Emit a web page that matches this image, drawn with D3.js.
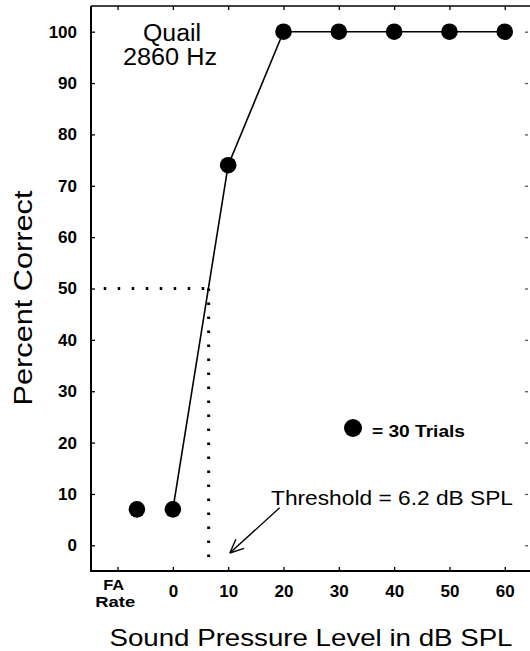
<!DOCTYPE html>
<html>
<head>
<meta charset="utf-8">
<script src="https://cdn.jsdelivr.net/npm/d3@7"></script>
<style>
  html, body { margin: 0; padding: 0; background: #fff; }
  svg { display: block; }
  text { font-family: "Liberation Sans", Arial, Helvetica, sans-serif; fill: #000; }
</style>
</head>
<body>
<svg id="chart" width="530" height="651"></svg>
<script>
// ---- data ----
const levels = [0, 10, 20, 30, 40, 50, 60];           // dB SPL
const percentCorrect = [7, 74, 100, 100, 100, 100, 100];
const faRateX = -6.5;                                  // position of FA-rate point
const faRateValue = 7;
const xTickValues = [0, 10, 20, 30, 40, 50, 60];
const xMinorTicks = [-10, 0, 10, 20, 30, 40, 50, 60];
const yTickValues = [0, 10, 20, 30, 40, 50, 60, 70, 80, 90, 100];
const threshold = 6.2;
const thresholdPercent = 50;
const faLabelLines = ["FA", "Rate"];
const faLabelX = -10.7;

// ---- scales ----
const svg = d3.select("#chart");
const x = d3.scaleLinear().domain([-14.8, 64.2]).range([91, 528]);
const y = d3.scaleLinear().domain([-5, 105]).range([571, 6]);

// ---- frame ----
svg.append("line").attr("x1", x(-14.8)).attr("x2", 530).attr("y1", y(105)).attr("y2", y(105))
  .attr("stroke", "#000").attr("stroke-width", 1.6);
svg.append("line").attr("x1", x(-14.8)).attr("x2", x(-14.8)).attr("y1", y(105)).attr("y2", y(-5))
  .attr("stroke", "#000").attr("stroke-width", 2);
svg.append("line").attr("x1", x(-14.8) - 1).attr("x2", 530).attr("y1", y(-5)).attr("y2", y(-5))
  .attr("stroke", "#000").attr("stroke-width", 2.2);

// left axis ticks + labels
const yAxis = d3.axisLeft(y).tickValues(yTickValues).tickSize(-4).tickPadding(14)
  .tickFormat(d3.format("d"));
const gy = svg.append("g").attr("transform", `translate(${x(-14.8)},0)`).call(yAxis);
gy.select(".domain").remove();
gy.selectAll(".tick line").attr("stroke", "#000").attr("stroke-width", 1.3);
gy.selectAll(".tick text").attr("font-size", 17).attr("font-weight", "bold")
  .style("font-family", '"Liberation Sans", Arial, sans-serif').attr("fill", "#000");

// right side ticks (no line)
const yAxisR = d3.axisRight(y).tickValues(yTickValues).tickSize(-3).tickFormat("");
const gyr = svg.append("g").attr("transform", `translate(${x(64.2)},0)`).call(yAxisR);
gyr.select(".domain").remove();
gyr.selectAll(".tick line").attr("stroke", "#555").attr("stroke-width", 1.3);

// bottom ticks + labels
const xAxis = d3.axisBottom(x).tickValues(xTickValues).tickSize(0).tickPadding(14)
  .tickFormat(d3.format("d"));
const gx = svg.append("g").attr("transform", `translate(0,${y(-5)})`).call(xAxis);
gx.select(".domain").remove();
gx.selectAll(".tick text").attr("font-size", 17).attr("font-weight", "bold")
  .style("font-family", '"Liberation Sans", Arial, sans-serif').attr("fill", "#000");

const xTickMarks = d3.axisBottom(x).tickValues(xMinorTicks).tickSize(-4).tickFormat("");
const gxt = svg.append("g").attr("transform", `translate(0,${y(-5)})`).call(xTickMarks);
gxt.select(".domain").remove();
gxt.selectAll(".tick line").attr("stroke", "#000").attr("stroke-width", 1.3);

const xTickTop = d3.axisTop(x).tickValues(xMinorTicks).tickSize(-4).tickFormat("");
const gxtop = svg.append("g").attr("transform", `translate(0,${y(105)})`).call(xTickTop);
gxtop.select(".domain").remove();
gxtop.selectAll(".tick line").attr("stroke", "#000").attr("stroke-width", 1.3);

// FA Rate label (two lines)
svg.append("text").attr("x", x(faLabelX)).attr("y", 590).attr("text-anchor", "middle")
  .attr("font-size", 14).attr("font-weight", "bold")
  .attr("textLength", 21).attr("lengthAdjust", "spacingAndGlyphs").text(faLabelLines[0]);
svg.append("text").attr("x", x(faLabelX) + 1.5).attr("y", 607).attr("text-anchor", "middle")
  .attr("font-size", 14).attr("font-weight", "bold")
  .attr("textLength", 40).attr("lengthAdjust", "spacingAndGlyphs").text(faLabelLines[1]);

// ---- threshold dotted lines ----
svg.append("line").attr("x1", x(-12.5)).attr("x2", x(threshold)).attr("y1", y(thresholdPercent)).attr("y2", y(thresholdPercent))
  .attr("stroke", "#000").attr("stroke-width", 3).attr("stroke-dasharray", "2.5,11.5");
svg.append("line").attr("x1", x(threshold) + 1.5).attr("x2", x(threshold) + 1.5).attr("y1", y(thresholdPercent)).attr("y2", y(-2.3))
  .attr("stroke", "#000").attr("stroke-width", 3).attr("stroke-dasharray", "2.5,11.5");

// ---- data line & markers ----
const pts = levels.map((l, i) => [l, percentCorrect[i]]);
svg.append("path").datum(pts)
  .attr("d", d3.line().x(d => x(d[0])).y(d => y(d[1])))
  .attr("fill", "none").attr("stroke", "#000").attr("stroke-width", 1.6);
svg.selectAll("circle.pt").data(pts).enter().append("circle").attr("class", "pt")
  .attr("cx", d => x(d[0])).attr("cy", d => y(d[1])).attr("r", 8.3).attr("fill", "#000");
svg.append("circle").attr("cx", x(faRateX)).attr("cy", y(faRateValue)).attr("r", 8.3).attr("fill", "#000");

// ---- annotations ----
svg.append("text").attr("x", 172).attr("y", 41).attr("text-anchor", "middle").attr("font-size", 23)
  .attr("textLength", 58).attr("lengthAdjust", "spacingAndGlyphs").text("Quail");
svg.append("text").attr("x", 170).attr("y", 65).attr("text-anchor", "middle").attr("font-size", 23)
  .attr("textLength", 94).attr("lengthAdjust", "spacingAndGlyphs").text("2860 Hz");

// legend
svg.append("circle").attr("cx", 353).attr("cy", 428).attr("r", 9).attr("fill", "#000");
svg.append("text").attr("x", 372).attr("y", 437).attr("font-size", 16).attr("font-weight", "bold")
  .attr("textLength", 93).attr("lengthAdjust", "spacingAndGlyphs").text("= 30 Trials");

// threshold label + arrow
svg.append("text").attr("x", 271).attr("y", 505).attr("font-size", 21)
  .attr("textLength", 242).attr("lengthAdjust", "spacingAndGlyphs").text("Threshold = 6.2 dB SPL");
const ax1 = x(19.3), ay1 = y(7.3), ax2 = x(10.3), ay2 = y(-1.5);
svg.append("line").attr("x1", ax1).attr("y1", ay1).attr("x2", ax2).attr("y2", ay2)
  .attr("stroke", "#000").attr("stroke-width", 1.4);
const ang = Math.atan2(ay1 - ay2, ax1 - ax2);
[0.42, -0.42].forEach(da => {
  svg.append("line").attr("x1", ax2).attr("y1", ay2)
    .attr("x2", ax2 + 15 * Math.cos(ang + da)).attr("y2", ay2 + 15 * Math.sin(ang + da))
    .attr("stroke", "#000").attr("stroke-width", 1.4);
});

// ---- axis titles ----
svg.append("text").attr("transform", "translate(32,298) rotate(-90)").attr("text-anchor", "middle")
  .attr("font-size", 25).attr("textLength", 215).attr("lengthAdjust", "spacingAndGlyphs").text("Percent Correct");
svg.append("text").attr("x", 311).attr("y", 646).attr("text-anchor", "middle").attr("font-size", 24)
  .attr("textLength", 403).attr("lengthAdjust", "spacingAndGlyphs").text("Sound Pressure Level in dB SPL");
</script>
</body>
</html>
